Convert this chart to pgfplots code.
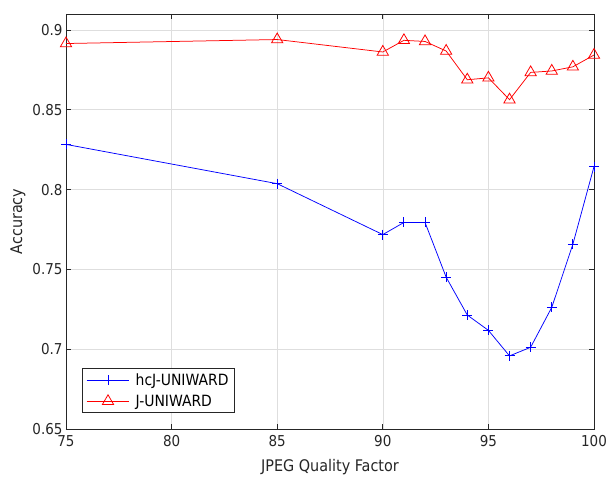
\documentclass[border=0pt]{standalone}
\usepackage{pgfplots}
\pgfplotsset{compat=1.18}
\usepackage{fontspec}
\setmainfont{DejaVu Sans Condensed}
\definecolor{axgray}{RGB}{38,38,38}
\definecolor{gridgray}{RGB}{222,222,222}
\begin{document}
\begin{tikzpicture}
\begin{axis}[
  name=ax,
  scale only axis,
  width=528pt, height=415pt,
  xmin=75, xmax=100, ymin=0.65, ymax=0.91,
  xtick={75,80,...,100},
  ytick={0.65,0.7,0.75,0.8,0.85,0.9},
  yticklabels={0.65,0.7,0.75,0.8,0.85,0.9},
  xmajorgrids, ymajorgrids,
  grid style={gridgray, line width=0.6pt},
  axis line style={axgray, line width=0.8pt},
  tick style={axgray, line width=0.8pt},
  tick align=inside,
  major tick length=5pt,
  ticklabel style={font=\fontsize{15}{17}\selectfont, text=axgray},
  xticklabel style={yshift=-3pt},
  label style={font=\fontsize{16}{18}\selectfont, text=axgray},
  /pgf/number format/assume math mode=true,
  xlabel={JPEG Quality Factor},
  ylabel={Accuracy},
  xlabel style={yshift=-6pt},
  legend style={at={(rel axis cs:0.0303,0.0386)}, anchor=south west,
    draw=axgray, line width=0.6pt, font=\fontsize{15.5}{17}\selectfont,
    inner xsep=4pt, inner ysep=3pt, row sep=4pt, column sep=4pt},
  legend cell align=left,
  legend image code/.code={\draw[mark repeat=2,mark phase=2] plot coordinates {(0cm,0cm) (0.75cm,0cm) (1.5cm,0cm)};},
]
\addplot[color=blue, line width=0.75pt, mark=+, mark size=5pt, mark options={solid, color=blue, draw=blue, line width=0.85pt}] coordinates {
(75,0.8283) (85,0.8037) (90,0.7718) (91,0.7794) (92,0.7794) (93,0.7451)
(94,0.7214) (95,0.7118) (96,0.6958) (97,0.7012) (98,0.7262) (99,0.7658) (100,0.8144)
};
\addlegendentry{hcJ-UNIWARD}
\addplot[color=red, line width=0.75pt, mark=triangle, mark size=6.5pt, mark options={solid, draw=red, line width=0.8pt}] coordinates {
(75,0.8915) (85,0.8940) (90,0.8862) (91,0.8935) (92,0.8928) (93,0.8868)
(94,0.8688) (95,0.8700) (96,0.8563) (97,0.8734) (98,0.8743) (99,0.8769) (100,0.8843)
};
\addlegendentry{J-UNIWARD}
\end{axis}
\pgfresetboundingbox
\path ([xshift=-66pt,yshift=-49pt]ax.south west) rectangle ([xshift=14pt,yshift=14pt]ax.north east);
\end{tikzpicture}
\end{document}
